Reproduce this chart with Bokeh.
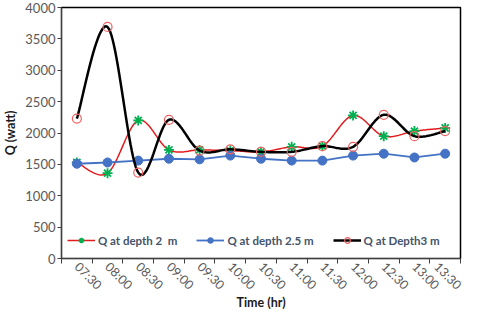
import numpy as np
from math import pi
from bokeh.plotting import figure
from bokeh.models import Range1d, FixedTicker, Legend, LegendItem
from bokeh.embed import file_html
from bokeh.resources import INLINE

times = ["07:30", "08:00", "08:30", "09:00", "09:30", "10:00", "10:30",
         "11:00", "11:30", "12:00", "12:30", "13:00", "13:30"]
q_depth_2 = [1530, 1360, 2200, 1730, 1730, 1720, 1700, 1780, 1790, 2280, 1950, 2030, 2080]
q_depth_2_5 = [1510, 1530, 1560, 1590, 1580, 1640, 1590, 1560, 1560, 1640, 1670, 1610, 1670]
q_depth_3 = [2230, 3690, 1370, 2210, 1720, 1740, 1700, 1700, 1790, 1780, 2290, 1950, 2030]
y_ticks = [0, 500, 1000, 1500, 2000, 2500, 3000, 3500, 4000]

FONT = "Lato"
xs = [i + 0.5 for i in range(len(times))]


def smooth(x, y, n=24):
    x = np.asarray(x, float)
    y = np.asarray(y, float)
    px = np.concatenate([[x[0]], x, [x[-1]]])
    py = np.concatenate([[y[0]], y, [y[-1]]])
    ox, oy = [], []
    for i in range(1, len(px) - 2):
        t = np.linspace(0, 1, n, endpoint=(i == len(px) - 3))
        h00 = 2 * t**3 - 3 * t**2 + 1
        h10 = t**3 - 2 * t**2 + t
        h01 = -2 * t**3 + 3 * t**2
        h11 = t**3 - t**2
        mx0 = (px[i + 1] - px[i - 1]) / 2
        mx1 = (px[i + 2] - px[i]) / 2
        my0 = (py[i + 1] - py[i - 1]) / 2
        my1 = (py[i + 2] - py[i]) / 2
        ox.extend(h00 * px[i] + h10 * mx0 + h01 * px[i + 1] + h11 * mx1)
        oy.extend(h00 * py[i] + h10 * my0 + h01 * py[i + 1] + h11 * my1)
    return ox, oy


p = figure(width=464, height=312, output_backend="svg", toolbar_location=None,
           x_range=Range1d(0, len(times)), y_range=Range1d(0, 4000),
           min_border_left=54, min_border_right=4, min_border_top=7, min_border_bottom=40)
p.xgrid.visible = False
p.ygrid.visible = False
p.outline_line_color = "black"
p.outline_line_width = 1.5
p.background_fill_color = "white"
p.border_fill_color = "white"

sx, sy = smooth(xs, q_depth_2)
r_line = p.line(sx, sy, line_color="#e31a1c", line_width=1.5)
r_mark = p.scatter(xs, q_depth_2, marker="asterisk", size=10, line_color="#00b050", line_width=1.8)

b_line = p.line(xs, q_depth_2_5, line_color="#4472c4", line_width=1.8)
b_mark = p.scatter(xs, q_depth_2_5, marker="circle", size=9, fill_color="#4472c4", line_color="#4472c4")

kx, ky = smooth(xs, q_depth_3)
k_line = p.line(kx, ky, line_color="black", line_width=2.5)
k_mark = p.scatter(xs, q_depth_3, marker="circle", size=9, fill_color=None, line_color="#f06060", line_width=1.2)

legend = Legend(items=[
    LegendItem(label="Q at depth 2  m", renderers=[r_line, r_mark]),
    LegendItem(label="Q at depth 2.5 m", renderers=[b_line, b_mark]),
    LegendItem(label="Q at Depth3 m", renderers=[k_line, k_mark]),
], orientation="horizontal", location=(6, 11))
legend.background_fill_alpha = 0
legend.border_line_color = None
legend.padding = 0
legend.margin = 0
legend.spacing = 19
legend.glyph_width = 28
legend.glyph_height = 14
legend.label_height = 14
legend.label_standoff = 3
legend.label_text_font = FONT
legend.label_text_font_size = "11.5px"
legend.label_text_font_style = "bold"
legend.label_text_color = "#44546a"
p.add_layout(legend, "center")

ax = p.xaxis[0]
ax.ticker = FixedTicker(ticks=xs, minor_ticks=list(range(len(times) + 1)))
ax.major_label_overrides = {x: t for x, t in zip(xs, times)}
ax.major_label_orientation = -pi / 4
ax.major_label_standoff = 1
ax.major_tick_out = 0
ax.major_tick_in = 0
ax.minor_tick_out = 5
ax.minor_tick_in = 0
ax.minor_tick_line_color = "#404040"
ax.axis_line_color = "#404040"
ax.major_label_text_font = FONT
ax.major_label_text_font_size = "12.5px"
ax.major_label_text_color = "#595959"
ax.axis_label = "Time (hr)"
ax.axis_label_text_font = FONT
ax.axis_label_text_font_size = "12.5px"
ax.axis_label_text_font_style = "bold"
ax.axis_label_text_color = "#1a1a1a"
ax.axis_label_standoff = -6

ay = p.yaxis[0]
ay.ticker = FixedTicker(ticks=y_ticks, minor_ticks=[])
ay.major_tick_out = 4
ay.major_tick_in = 0
ay.major_tick_line_color = "#404040"
ay.axis_line_color = "#404040"
ay.major_label_standoff = 2
ay.major_label_text_font = FONT
ay.major_label_text_font_size = "13px"
ay.major_label_text_color = "#595959"
ay.axis_label = "Q (watt)"
ay.axis_label_text_font = FONT
ay.axis_label_text_font_size = "12.5px"
ay.axis_label_text_font_style = "bold"
ay.axis_label_text_color = "#1a1a1a"
ay.axis_label_standoff = 4

open("out.html", "w").write(file_html(p, INLINE))
